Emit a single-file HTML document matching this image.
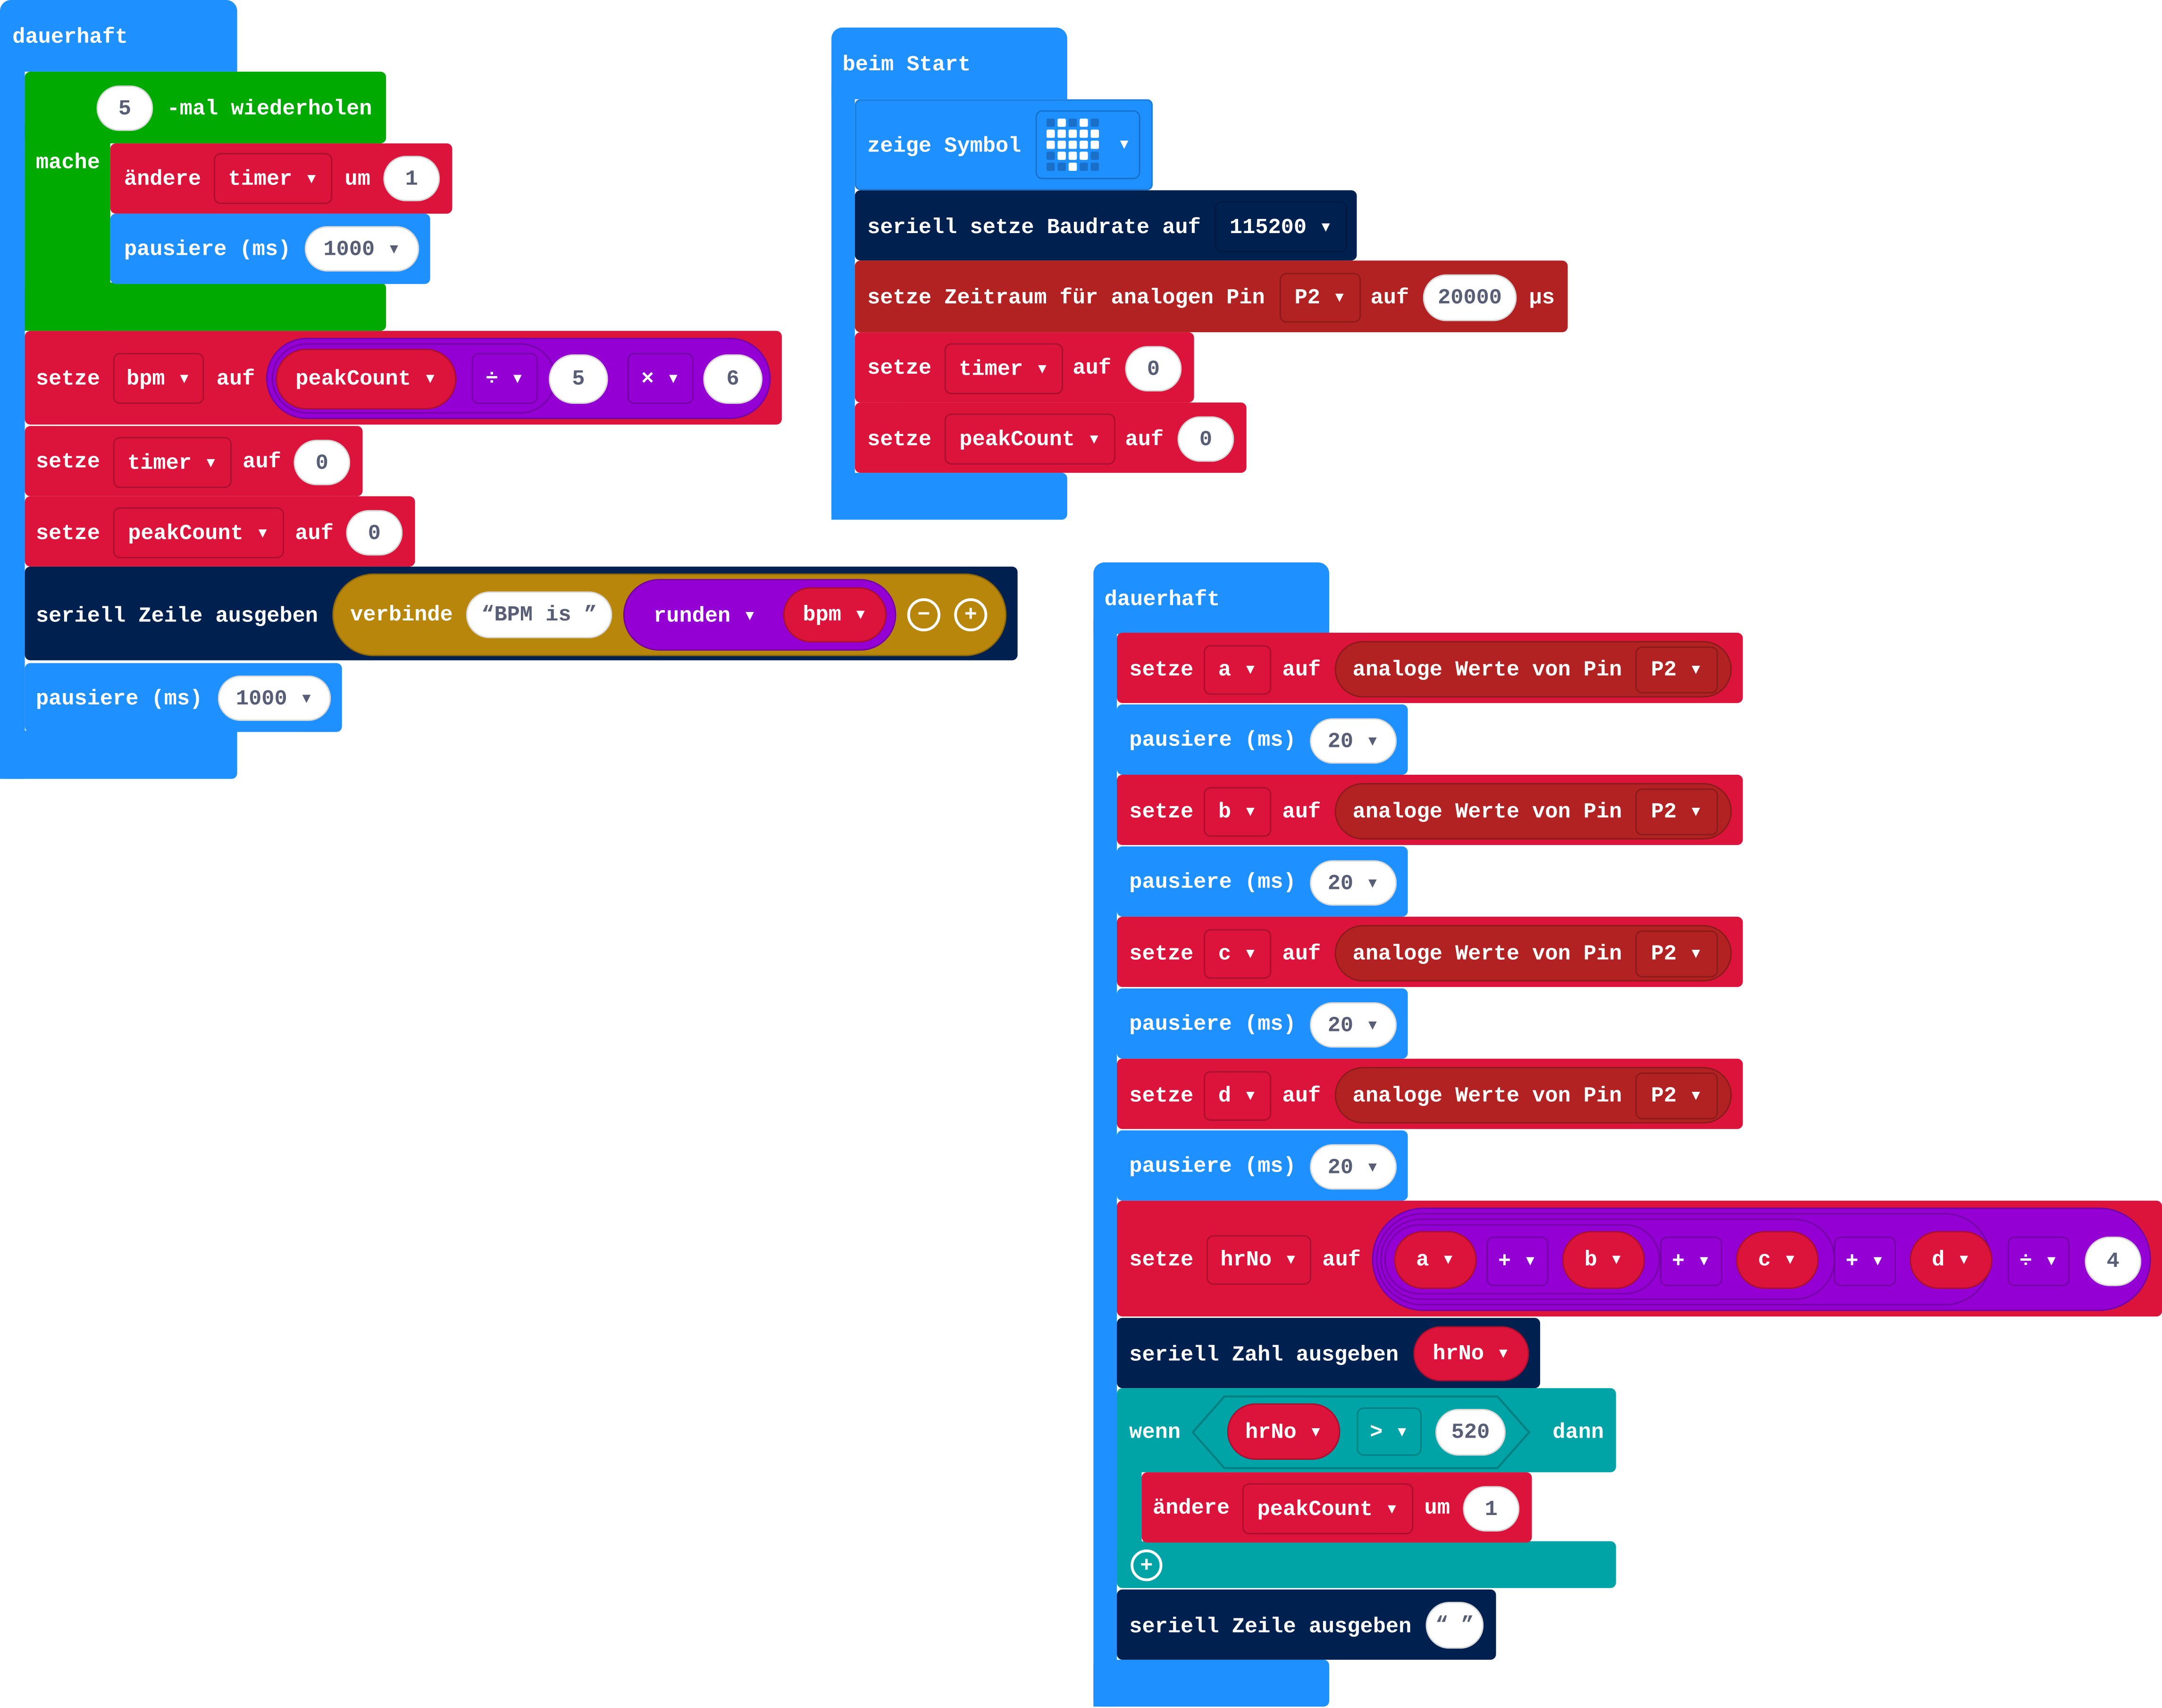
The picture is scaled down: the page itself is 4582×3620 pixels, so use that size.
<!DOCTYPE html>
<html><head><meta charset="utf-8"><style>
html,body{margin:0;padding:0;background:#fff;width:4582px;height:3620px;overflow:hidden}
#w{position:absolute;left:0;top:0;width:1568px;height:1239px;transform:scale(2.9222,2.9217);transform-origin:0 0}
.r{position:absolute;border-radius:4px;box-sizing:border-box}
.t{position:absolute;color:#fff;font:bold 15.5px/20px "Liberation Mono","DejaVu Sans Mono",monospace;white-space:pre;transform:translateY(-10px)}
.f{position:absolute;box-sizing:border-box;display:flex;align-items:center;justify-content:center;color:#fff;font:bold 15.5px/20px "Liberation Mono","DejaVu Sans Mono",monospace;white-space:pre;border:1px solid rgba(0,0,0,.22);border-radius:5px}
.p{border-radius:25px}
.wh{background:#fff;color:#575e75;border:1px solid rgba(0,0,0,.15)}
.blu{background:#1e90ff}.red{background:#dc143c}.grn{background:#00aa00}.nav{background:#002050}.pin{background:#b22222}.pur{background:#9400d3}.gld{background:#b8860b}.tel{background:#00a4a6}
</style></head><body><div id="w">

<!-- LEFT dauerhaft -->
<div class="r blu" style="left:0;top:0;width:172px;height:52px;border-radius:8px 8px 0 0"></div>
<div class="r blu" style="left:0;top:40px;width:18px;height:525px;border-radius:0"></div>
<div class="r blu" style="left:0;top:530px;width:172px;height:35px;border-radius:0 0 4px 4px"></div>
<div class="t" style="left:9px;top:27px">dauerhaft</div>
<div class="r grn" style="left:18px;top:52px;width:262px;height:52px"></div>
<div class="r grn" style="left:18px;top:90px;width:62px;height:150px;border-radius:0"></div>
<div class="r grn" style="left:18px;top:205px;width:262px;height:35px"></div>
<div class="f p wh" style="left:70px;top:62px;width:41px;height:33px">5</div>
<div class="t" style="left:121px;top:79px">-mal wiederholen</div>
<div class="t" style="left:26px;top:118px">mache</div>
<div class="r red" style="left:80px;top:104px;width:248px;height:51px"></div>
<div class="t" style="left:90px;top:130px">ändere</div>
<div class="f red" style="left:155px;top:111px;width:86px;height:37px">timer ▾</div>
<div class="t" style="left:250px;top:130px">um</div>
<div class="f p wh" style="left:278px;top:113px;width:41px;height:33px">1</div>
<div class="r blu" style="left:80px;top:155px;width:232px;height:51px"></div>
<div class="t" style="left:90px;top:181px">pausiere (ms)</div>
<div class="f p wh" style="left:221px;top:164px;width:83px;height:33px">1000 ▾</div>
<div class="r red" style="left:18px;top:240px;width:549px;height:68px"></div>
<div class="t" style="left:26px;top:275px">setze</div>
<div class="f red" style="left:82px;top:256px;width:66px;height:37px">bpm ▾</div>
<div class="t" style="left:157px;top:275px">auf</div>
<div class="f p pur" style="left:193px;top:245px;width:366px;height:59px;border-radius:30px"></div>
<div class="f p pur" style="left:197px;top:249px;width:206px;height:51px;border-radius:26px"></div>
<div class="f p red" style="left:200px;top:253px;width:131px;height:44px">peakCount ▾</div>
<div class="f pur" style="left:342px;top:256px;width:48px;height:37px">÷ ▾</div>
<div class="f p wh" style="left:398px;top:257px;width:43px;height:36px">5</div>
<div class="f pur" style="left:455px;top:256px;width:48px;height:37px">× ▾</div>
<div class="f p wh" style="left:510px;top:257px;width:43px;height:36px">6</div>
<div class="r red" style="left:18px;top:309px;width:245px;height:51px"></div>
<div class="t" style="left:26px;top:335px">setze</div>
<div class="f red" style="left:82px;top:317px;width:86px;height:37px">timer ▾</div>
<div class="t" style="left:176px;top:335px">auf</div>
<div class="f p wh" style="left:213px;top:319px;width:41px;height:33px">0</div>
<div class="r red" style="left:18px;top:360px;width:283px;height:51px"></div>
<div class="t" style="left:26px;top:387px">setze</div>
<div class="f red" style="left:82px;top:368px;width:124px;height:37px">peakCount ▾</div>
<div class="t" style="left:214px;top:387px">auf</div>
<div class="f p wh" style="left:251px;top:370px;width:41px;height:33px">0</div>
<div class="r nav" style="left:18px;top:411px;width:720px;height:68px"></div>
<div class="t" style="left:26px;top:447px">seriell Zeile ausgeben</div>
<div class="f p gld" style="left:241px;top:416px;width:489px;height:60px;border-radius:30px;justify-content:flex-start;padding-left:12px">verbinde</div>
<div class="f p wh" style="left:338px;top:429px;width:106px;height:34px">“BPM is ”</div>
<div class="f p pur" style="left:452px;top:420px;width:198px;height:52px;border-radius:26px"></div>
<div class="t" style="left:474px;top:447px">runden ▾</div>
<div class="f p red" style="left:568px;top:426px;width:75px;height:40px">bpm ▾</div>
<div class="f p" style="left:658px;top:434px;width:24px;height:24px;border:2px solid #fff;border-radius:50%">−</div>
<div class="f p" style="left:692px;top:434px;width:24px;height:24px;border:2px solid #fff;border-radius:50%">+</div>
<div class="r blu" style="left:18px;top:481px;width:230px;height:50px"></div>
<div class="t" style="left:26px;top:507px">pausiere (ms)</div>
<div class="f p wh" style="left:158px;top:490px;width:82px;height:33px">1000 ▾</div>

<!-- beim Start -->
<div class="r blu" style="left:603px;top:20px;width:171px;height:52px;border-radius:8px 8px 0 0"></div>
<div class="r blu" style="left:603px;top:60px;width:17px;height:317px;border-radius:0"></div>
<div class="r blu" style="left:603px;top:343px;width:171px;height:34px"></div>
<div class="t" style="left:611px;top:47px">beim Start</div>
<div class="r blu" style="left:620px;top:72px;width:216px;height:66px;border:1px solid rgba(0,0,0,.15)"></div>
<div class="t" style="left:629px;top:106px">zeige Symbol</div>
<div class="f blu" style="left:751px;top:80px;width:76px;height:50px;justify-content:flex-end;padding-right:6px">▾</div>
<svg style="position:absolute;left:759px;top:86px" width="38" height="38" viewBox="0 0 38 38">
<g fill="#1a6fc9"><rect x="0" y="0" width="6" height="6" rx="1"/><rect x="16" y="0" width="6" height="6" rx="1"/><rect x="32" y="0" width="6" height="6" rx="1"/><rect x="0" y="24" width="6" height="6" rx="1"/><rect x="32" y="24" width="6" height="6" rx="1"/><rect x="0" y="32" width="6" height="6" rx="1"/><rect x="8" y="32" width="6" height="6" rx="1"/><rect x="24" y="32" width="6" height="6" rx="1"/><rect x="32" y="32" width="6" height="6" rx="1"/></g>
<g fill="#fff"><rect x="8" y="0" width="6" height="6" rx="1"/><rect x="24" y="0" width="6" height="6" rx="1"/>
<rect x="0" y="8" width="6" height="6" rx="1"/><rect x="8" y="8" width="6" height="6" rx="1"/><rect x="16" y="8" width="6" height="6" rx="1"/><rect x="24" y="8" width="6" height="6" rx="1"/><rect x="32" y="8" width="6" height="6" rx="1"/>
<rect x="0" y="16" width="6" height="6" rx="1"/><rect x="8" y="16" width="6" height="6" rx="1"/><rect x="16" y="16" width="6" height="6" rx="1"/><rect x="24" y="16" width="6" height="6" rx="1"/><rect x="32" y="16" width="6" height="6" rx="1"/>
<rect x="8" y="24" width="6" height="6" rx="1"/><rect x="16" y="24" width="6" height="6" rx="1"/><rect x="24" y="24" width="6" height="6" rx="1"/>
<rect x="16" y="32" width="6" height="6" rx="1"/></g></svg>
<div class="r nav" style="left:620px;top:138px;width:364px;height:51px"></div>
<div class="t" style="left:629px;top:165px">seriell setze Baudrate auf</div>
<div class="f nav" style="left:881px;top:146px;width:96px;height:37px">115200 ▾</div>
<div class="r pin" style="left:620px;top:189px;width:517px;height:52px"></div>
<div class="t" style="left:629px;top:216px">setze Zeitraum für analogen Pin</div>
<div class="f pin" style="left:928px;top:198px;width:59px;height:36px">P2 ▾</div>
<div class="t" style="left:994px;top:216px">auf</div>
<div class="f p wh" style="left:1032px;top:199px;width:68px;height:34px">20000</div>
<div class="t" style="left:1109px;top:216px">µs</div>
<div class="r red" style="left:620px;top:241px;width:246px;height:51px"></div>
<div class="t" style="left:629px;top:267px">setze</div>
<div class="f red" style="left:685px;top:249px;width:86px;height:37px">timer ▾</div>
<div class="t" style="left:778px;top:267px">auf</div>
<div class="f p wh" style="left:816px;top:251px;width:41px;height:33px">0</div>
<div class="r red" style="left:620px;top:292px;width:284px;height:51px"></div>
<div class="t" style="left:629px;top:319px">setze</div>
<div class="f red" style="left:685px;top:300px;width:124px;height:37px">peakCount ▾</div>
<div class="t" style="left:816px;top:319px">auf</div>
<div class="f p wh" style="left:854px;top:302px;width:41px;height:33px">0</div>

<!-- dauerhaft 2 -->
<div class="r blu" style="left:793px;top:408px;width:171px;height:52px;border-radius:8px 8px 0 0"></div>
<div class="r blu" style="left:793px;top:450px;width:17px;height:788px;border-radius:0"></div>
<div class="r blu" style="left:793px;top:1204px;width:171px;height:34px"></div>
<div class="t" style="left:801px;top:435px">dauerhaft</div>

<div class="r red" style="left:810px;top:459px;width:454px;height:51px"></div>
<div class="t" style="left:819px;top:486px">setze</div>
<div class="f red" style="left:873px;top:468px;width:49px;height:36px">a ▾</div>
<div class="t" style="left:930px;top:486px">auf</div>
<div class="f p pin" style="left:968px;top:465px;width:288px;height:41px;justify-content:flex-start;padding-left:12px">analoge Werte von Pin</div>
<div class="f pin" style="left:1186px;top:469px;width:60px;height:34px">P2 ▾</div>
<div class="r blu" style="left:810px;top:511px;width:211px;height:51px"></div>
<div class="t" style="left:819px;top:537px">pausiere (ms)</div>
<div class="f p wh" style="left:950px;top:521px;width:63px;height:33px">20 ▾</div>

<div class="r red" style="left:810px;top:562px;width:454px;height:51px"></div>
<div class="t" style="left:819px;top:589px">setze</div>
<div class="f red" style="left:873px;top:571px;width:49px;height:36px">b ▾</div>
<div class="t" style="left:930px;top:589px">auf</div>
<div class="f p pin" style="left:968px;top:568px;width:288px;height:41px;justify-content:flex-start;padding-left:12px">analoge Werte von Pin</div>
<div class="f pin" style="left:1186px;top:572px;width:60px;height:34px">P2 ▾</div>
<div class="r blu" style="left:810px;top:614px;width:211px;height:51px"></div>
<div class="t" style="left:819px;top:640px">pausiere (ms)</div>
<div class="f p wh" style="left:950px;top:624px;width:63px;height:33px">20 ▾</div>

<div class="r red" style="left:810px;top:665px;width:454px;height:51px"></div>
<div class="t" style="left:819px;top:692px">setze</div>
<div class="f red" style="left:873px;top:674px;width:49px;height:36px">c ▾</div>
<div class="t" style="left:930px;top:692px">auf</div>
<div class="f p pin" style="left:968px;top:671px;width:288px;height:41px;justify-content:flex-start;padding-left:12px">analoge Werte von Pin</div>
<div class="f pin" style="left:1186px;top:675px;width:60px;height:34px">P2 ▾</div>
<div class="r blu" style="left:810px;top:717px;width:211px;height:51px"></div>
<div class="t" style="left:819px;top:743px">pausiere (ms)</div>
<div class="f p wh" style="left:950px;top:727px;width:63px;height:33px">20 ▾</div>

<div class="r red" style="left:810px;top:768px;width:454px;height:51px"></div>
<div class="t" style="left:819px;top:795px">setze</div>
<div class="f red" style="left:873px;top:777px;width:49px;height:36px">d ▾</div>
<div class="t" style="left:930px;top:795px">auf</div>
<div class="f p pin" style="left:968px;top:774px;width:288px;height:41px;justify-content:flex-start;padding-left:12px">analoge Werte von Pin</div>
<div class="f pin" style="left:1186px;top:778px;width:60px;height:34px">P2 ▾</div>
<div class="r blu" style="left:810px;top:820px;width:211px;height:51px"></div>
<div class="t" style="left:819px;top:846px">pausiere (ms)</div>
<div class="f p wh" style="left:950px;top:830px;width:63px;height:33px">20 ▾</div>

<div class="r red" style="left:810px;top:871px;width:758px;height:84px"></div>
<div class="t" style="left:819px;top:914px">setze</div>
<div class="f red" style="left:875px;top:896px;width:76px;height:36px">hrNo ▾</div>
<div class="t" style="left:959px;top:914px">auf</div>
<div class="f p pur" style="left:995px;top:876px;width:565px;height:75px;border-radius:38px"></div>
<div class="f p pur" style="left:998px;top:880px;width:446px;height:67px;border-radius:34px"></div>
<div class="f p pur" style="left:1001px;top:884px;width:330px;height:59px;border-radius:30px"></div>
<div class="f p pur" style="left:1004px;top:888px;width:200px;height:51px;border-radius:26px"></div>
<div class="f p red" style="left:1011px;top:893px;width:60px;height:42px">a ▾</div>
<div class="f pur" style="left:1078px;top:897px;width:45px;height:36px">+ ▾</div>
<div class="f p red" style="left:1133px;top:893px;width:60px;height:42px">b ▾</div>
<div class="f pur" style="left:1204px;top:897px;width:45px;height:36px">+ ▾</div>
<div class="f p red" style="left:1259px;top:893px;width:60px;height:42px">c ▾</div>
<div class="f pur" style="left:1330px;top:897px;width:45px;height:36px">+ ▾</div>
<div class="f p red" style="left:1385px;top:893px;width:60px;height:42px">d ▾</div>
<div class="f pur" style="left:1456px;top:897px;width:45px;height:36px">÷ ▾</div>
<div class="f p wh" style="left:1512px;top:897px;width:41px;height:36px">4</div>

<div class="r nav" style="left:810px;top:956px;width:307px;height:51px"></div>
<div class="t" style="left:819px;top:983px">seriell Zahl ausgeben</div>
<div class="f p red" style="left:1025px;top:962px;width:84px;height:40px">hrNo ▾</div>

<div class="r tel" style="left:810px;top:1007px;width:362px;height:61px"></div>
<div class="r tel" style="left:810px;top:1060px;width:18px;height:70px;border-radius:0"></div>
<div class="r tel" style="left:810px;top:1118px;width:362px;height:34px"></div>
<div class="t" style="left:819px;top:1039px">wenn</div>
<svg style="position:absolute;left:864px;top:1012px" width="246" height="54"><polygon points="24,1 222,1 245,27 222,53 24,53 1,27" fill="#00a4a6" stroke="rgba(0,0,0,.22)" stroke-width="1.5"/></svg>
<div class="f p red" style="left:890px;top:1018px;width:82px;height:41px">hrNo ▾</div>
<div class="f tel" style="left:984px;top:1021px;width:47px;height:35px">&gt; ▾</div>
<div class="f p wh" style="left:1041px;top:1022px;width:51px;height:34px">520</div>
<div class="t" style="left:1126px;top:1039px">dann</div>
<div class="r red" style="left:828px;top:1068px;width:283px;height:51px"></div>
<div class="t" style="left:836px;top:1094px">ändere</div>
<div class="f red" style="left:901px;top:1076px;width:124px;height:37px">peakCount ▾</div>
<div class="t" style="left:1033px;top:1094px">um</div>
<div class="f p wh" style="left:1061px;top:1078px;width:41px;height:33px">1</div>
<div class="f" style="left:820px;top:1124px;width:23px;height:23px;border:2px solid #fff;border-radius:50%">+</div>

<div class="r nav" style="left:810px;top:1153px;width:275px;height:51px"></div>
<div class="t" style="left:819px;top:1180px">seriell Zeile ausgeben</div>
<div class="f p wh" style="left:1034px;top:1162px;width:42px;height:34px">“ ”</div>

</div></body></html>
